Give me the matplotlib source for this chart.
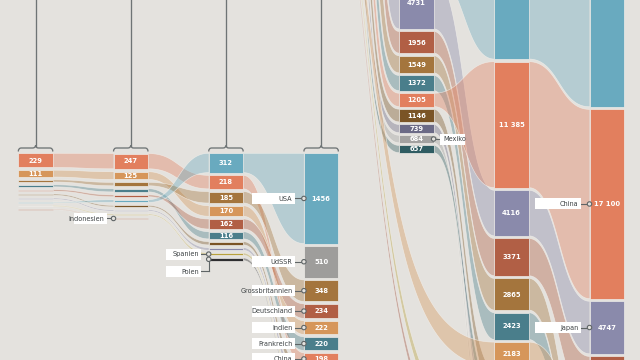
import numpy as np
import matplotlib
matplotlib.use("Agg")
import matplotlib.pyplot as plt
from matplotlib.patches import Rectangle, Polygon, Circle, PathPatch
from matplotlib.path import Path
from matplotlib import font_manager

# ---------------- data ----------------
col1_countries = ["China", "Indien", "Grossbritannien", "Frankreich", "Deutschland",
                  "Italien", "Japan", "USA", "Spanien", "Indonesien"]
col1_values = [229, 111, 36, 35, 27, 22, 21, 13, 12, 11]

col2_countries = ["China", "Indien", "Grossbritannien", "Frankreich", "Deutschland",
                  "USA", "Italien", "Japan", "Spanien", "Indonesien"]
col2_values = [247, 125, 55, 52, 32, 45, 24, 22, 18, 14]

col3_countries = ["USA", "China", "Grossbritannien", "Indien", "Deutschland",
                  "Frankreich", "Italien", "Japan", "Spanien", "Polen"]
col3_values = [312, 218, 185, 170, 162, 116, 53, 43, 37, 43]

col4_countries = ["USA", "UdSSR", "Grossbritannien", "Deutschland", "Indien",
                  "Frankreich", "China", "Italien", "Japan", "Spanien", "Polen"]
col4_values = [1456, 510, 348, 234, 222, 220, 198, 164, 161, 62, 60]

col5_countries = ["USA", "Japan", "Deutschland", "Grossbritannien", "Frankreich",
                  "China", "Italien", "Kanada", "Mexiko", "Brasilien"]
col5_values = [10285, 4731, 1956, 1549, 1372, 1205, 1146, 739, 684, 657]

col6_countries = ["USA", "China", "Japan", "Deutschland", "Grossbritannien", "Frankreich",
                  "Indien", "Italien", "Brasilien", "Kanada", "Spanien", "Mexiko", "Indonesien"]
col6_values = [18569, 11385, 4116, 3371, 2865, 2423, 2183, 1850, 1796, 1530, 1232, 1046, 932]

col7_countries = ["USA", "China", "Japan", "Deutschland", "Indien", "Grossbritannien",
                  "Frankreich", "Italien", "Brasilien", "Kanada"]
col7_values = [24800, 17100, 4747, 3900, 3700, 3200, 2900, 2200, 2100, 2000]

# flows arriving from the (off-screen) upper part of the chart, right to left
top_countries = ["Japan", "Deutschland", "Grossbritannien", "Frankreich", "China", "Italien",
                 "Kanada", "Mexiko", "Brasilien", "Indien", "Spanien", "Indonesien"]
top_values = [161, 234, 348, 220, 198, 164, 102, 67, 89, 222, 62, 66]

# labels: (column, country, side, box width, distance to column, vertical offset)
label_specs = [
    (1, "Indonesien", "left", 33.3, 6.7, 0),
    (2, "Spanien", "left", 35.0, 7.3, 0),
    (2, "Polen", "left", 35.0, 7.3, 12),
    (3, "USA", "left", 43.0, 9.0, 0),
    (3, "UdSSR", "left", 43.0, 9.0, 0),
    (3, "Grossbritannien", "left", 43.0, 9.0, 0),
    (3, "Deutschland", "left", 43.0, 9.0, 0),
    (3, "Indien", "left", 43.0, 9.0, 0),
    (3, "Frankreich", "left", 43.0, 9.0, 0),
    (3, "China", "left", 43.0, 9.0, 0),
    (4, "Mexiko", "right", 25.0, 6.7, 0),
    (6, "China", "left", 45.7, 8.6, 0),
    (6, "Japan", "left", 45.7, 8.6, 0),
]

COLORS = {
    "USA": "#69AABF", "China": "#E27F5E", "Indien": "#D6965A",
    "Grossbritannien": "#A4753D", "Deutschland": "#B15F45", "Frankreich": "#4A7E8B",
    "UdSSR": "#9E9D9B", "Japan": "#8A8AAB", "Italien": "#7A5426", "Kanada": "#6B6A86",
    "Mexiko": "#A2A1A0", "Brasilien": "#2F5C62", "Spanien": "#B8A13C",
    "Polen": "#2E2E30", "Indonesien": "#9C4E3A",
}

columns = [(col1_countries, col1_values), (col2_countries, col2_values),
           (col3_countries, col3_values), (col4_countries, col4_values),
           (col5_countries, col5_values), (col6_countries, col6_values),
           (col7_countries, col7_values)]

# ---------------- layout ----------------
BG = "#E4E2DE"
EDGE = "#F3F1ED"
COL_W = 34.5
COL_X = [18.3 + 95.2 * i for i in range(7)]
SCALE = [0.062] * 4 + [0.01107] * 3
GAP = [2.7, 2.9, 2.7, 2.35, 2.6, 2.6, 2.6]
TOP = [153.3, 153.5, 153.3, 153.3, -140.0, -146.5, -167.8]
TOP_ROW_Y = -50.0
TOP_ROW_RIGHT = 386.0
TOP_ROW_GAP = 0.9


def pick_font():
    entries = font_manager.fontManager.ttflist
    for f in entries:
        if f.name == "Liberation Sans Narrow":
            return "Liberation Sans Narrow", "normal"
    for f in entries:
        if f.name == "DejaVu Sans" and "condensed" in str(f.stretch):
            return "DejaVu Sans", "condensed"
    return "Liberation Sans", "normal"


FONT, STRETCH = pick_font()


def layout(ci):
    names, vals = columns[ci]
    y = TOP[ci]
    pos = {}
    for n, v in zip(names, vals):
        h = v * SCALE[ci]
        pos[n] = (y, y + h, v)
        y += h + GAP[ci]
    return pos


POS = [layout(i) for i in range(7)]

T = np.linspace(0, 1, 90)[:, None]


def bez(p0, p1, p2, p3):
    p0, p1, p2, p3 = (np.asarray(p, float) for p in (p0, p1, p2, p3))
    return ((1 - T) ** 3) * p0 + 3 * ((1 - T) ** 2) * T * p1 + 3 * (1 - T) * T ** 2 * p2 + T ** 3 * p3


fig = plt.figure(figsize=(6.4, 3.6), dpi=100)
fig.patch.set_facecolor(BG)
ax = fig.add_axes([0, 0, 1, 1])
ax.set_facecolor(BG)
ax.set_xlim(0, 640)
ax.set_ylim(360, 0)
ax.axis("off")


def draw_band(upper, lower, color, z):
    poly = np.vstack([upper, lower[::-1]])
    ax.add_patch(Polygon(poly, closed=True, fc=color, ec="none", alpha=0.38, zorder=z))
    for c in (upper, lower):
        ax.plot(c[:, 0], c[:, 1], color=EDGE, lw=0.45, alpha=0.75, zorder=z + 0.01)


# links between neighbouring columns
z = 1.0
for ci in [0, 1, 2, 4, 5]:
    src, tgt = POS[ci], POS[ci + 1]
    x0 = COL_X[ci] + COL_W
    x1 = COL_X[ci + 1]
    xm = (x0 + x1) / 2
    for name in columns[ci][0]:
        if name not in tgt:
            continue
        a0, a1, _ = src[name]
        b0, b1, _ = tgt[name]
        upper = bez((x0, a0), (xm, a0), (xm, b0), (x1, b0))
        lower = bez((x0, a1), (xm, a1), (xm, b1), (x1, b1))
        draw_band(upper, lower, COLORS[name], z)
        z += 0.02

# links descending from the upper part of the chart
xr = TOP_ROW_RIGHT
Y = TOP_ROW_Y


def drop_curve(xs, x1, b):
    dx = x1 - xs
    return bez((xs, Y), (xs + 0.25 * dx, Y + 0.65 * (b - Y)), (xs + 0.35 * dx, b), (x1, b))


for name, v in zip(top_countries, top_values):
    w = v * SCALE[4]
    xb, xa = xr, xr - w
    xr = xa - TOP_ROW_GAP
    ti = 4 if name in POS[4] else 5
    b0, b1, _ = POS[ti][name]
    x1 = COL_X[ti]
    draw_band(drop_curve(xb, x1, b0), drop_curve(xa, x1, b1), COLORS[name], z)
    z += 0.02

# brackets with guide lines above the magnified columns
LINE = "#6E7475"
for ci in range(4):
    L, R = COL_X[ci], COL_X[ci] + COL_W
    C = (L + R) / 2
    ax.plot([C, C], [0, 145.5], color=LINE, lw=0.95, zorder=3)
    verts = [(L, 151.5), (L, 148), (L + 3, 148), (C - 3, 148), (C, 148), (C, 145.5),
             (C, 148), (C + 3, 148), (R - 3, 148), (R, 148), (R, 151.5)]
    codes = [Path.MOVETO, Path.CURVE3, Path.CURVE3, Path.LINETO, Path.CURVE3, Path.CURVE3,
             Path.CURVE3, Path.CURVE3, Path.LINETO, Path.CURVE3, Path.CURVE3]
    ax.add_patch(PathPatch(Path(verts, codes), fc="none", ec=LINE, lw=0.95, zorder=3))


def fmt(v):
    s = f"{v:,}".replace(",", " ")
    return s if v >= 10000 else str(v)


# nodes
for ci in range(7):
    x = COL_X[ci]
    for name, (y0, y1, v) in POS[ci].items():
        ax.add_patch(Rectangle((x, y0), COL_W, y1 - y0, fc=COLORS[name], ec="#EEECE8",
                               lw=0.5, zorder=4))
        if y1 - y0 >= 6:
            ax.text(x + COL_W / 2, (y0 + y1) / 2 + 0.3, fmt(v), color="white",
                    fontsize=5.4, fontweight="bold", family=FONT, stretch=STRETCH,
                    ha="center", va="center", zorder=5)

# labels
for ci, name, side, bw, dist, dy in label_specs:
    y0, y1, _ = POS[ci][name]
    yc = (y0 + y1) / 2
    yl = yc + dy
    bh = 11
    if side == "left":
        cx = COL_X[ci]
        bx1 = cx - dist
        bx0 = bx1 - bw
        ax.plot([bx1, cx - 2.2 if dy == 0 else cx], [yl, yl], color="#5F6566", lw=0.8, zorder=6)
        if dy:
            ax.plot([cx, cx], [yc + 2.2, yl], color="#5F6566", lw=0.8, zorder=6)
        ax.add_patch(Rectangle((bx0, yl - bh / 2), bw, bh, fc="white", ec="none", zorder=6))
        ax.text(bx1 - 2.5, yl + 0.3, name, ha="right", va="center", fontsize=5.2,
                family=FONT, stretch=STRETCH, color="#3E4345", zorder=7)
    else:
        cx = COL_X[ci] + COL_W
        bx0 = cx + dist
        ax.plot([cx + 2.2, bx0], [yl, yl], color="#5F6566", lw=0.8, zorder=6)
        ax.add_patch(Rectangle((bx0, yl - bh / 2), bw, bh, fc="white", ec="none", zorder=6))
        ax.text(bx0 + 3, yl + 0.3, name, ha="left", va="center", fontsize=5.2,
                family=FONT, stretch=STRETCH, color="#3E4345", zorder=7)
    ax.add_patch(Circle((cx, yc), 2.2, fc=BG, ec="#5F6566", lw=0.8, zorder=8))

fig.savefig("out.png", dpi=100, facecolor=BG)
